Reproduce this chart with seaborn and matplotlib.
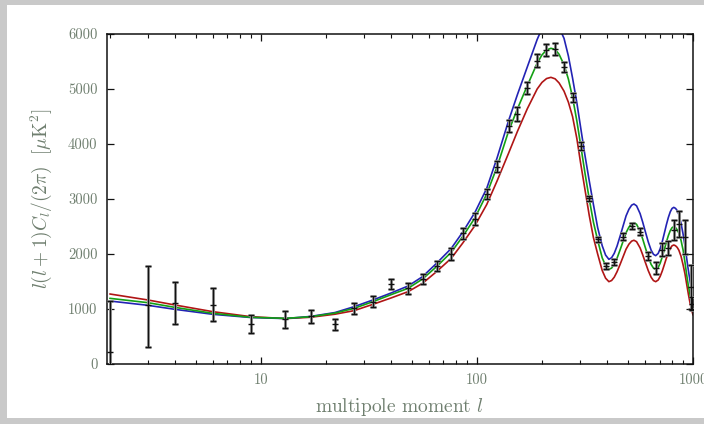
import matplotlib
matplotlib.use("Agg")
import matplotlib.pyplot as plt
from matplotlib.patches import Rectangle
from matplotlib.ticker import LogLocator, NullFormatter, FixedLocator
import numpy as np
import pandas as pd
import seaborn as sns

# ---- model curves ----
curve_l = [2, 3, 4, 6, 9, 13, 17, 22, 27, 33,
           40, 48, 56, 65, 76, 86, 98, 111, 124, 140,
           154, 171, 190, 200, 210, 220, 230, 240, 253, 265,
           277, 290, 302, 316, 331, 346, 362, 380, 394, 408,
           420, 432, 445, 460, 476, 490, 505, 520, 533, 548,
           569, 585, 600, 621, 640, 656, 672, 690, 705, 721,
           737, 753, 769, 785, 800, 815, 830, 845, 860, 880,
           900, 918, 935, 952, 970, 985, 1000]
green_vals = [1194, 1115, 1030, 921, 849, 830, 860, 925, 1012, 1133,
              1260, 1376, 1545, 1770, 2030, 2320, 2660, 3091, 3588, 4230,
              4640, 5060, 5470, 5620, 5710, 5740, 5720, 5630, 5440, 5180,
              4850, 4420, 3980, 3480, 3000, 2580, 2250, 1930, 1790, 1720,
              1744, 1812, 1923, 2077, 2245, 2387, 2488, 2552, 2570, 2540,
              2413, 2273, 2131, 1945, 1811, 1744, 1721, 1756, 1834, 1949,
              2083, 2218, 2335, 2426, 2479, 2497, 2480, 2440, 2380, 2250,
              2070, 1850, 1620, 1420, 1250, 1130, 1040]
blue_vals = [1145, 1067, 994, 903, 845, 826, 865, 935, 1042, 1164,
             1290, 1418, 1588, 1830, 2100, 2400, 2760, 3194, 3750, 4420,
             4900, 5400, 5900, 6100, 6230, 6280, 6240, 6120, 5920, 5600,
             5200, 4750, 4300, 3800, 3330, 2900, 2480, 2150, 1980, 1903,
             1932, 2012, 2143, 2326, 2525, 2693, 2812, 2888, 2909, 2876,
             2735, 2580, 2424, 2218, 2070, 1995, 1970, 2010, 2098, 2228,
             2380, 2532, 2664, 2768, 2828, 2848, 2830, 2790, 2720, 2560,
             2360, 2150, 1920, 1700, 1500, 1340, 1194]
red_vals = [1273, 1164, 1073, 951, 860, 826, 850, 905, 970, 1085,
            1200, 1315, 1467, 1679, 1920, 2200, 2520, 2900, 3330, 3830,
            4230, 4640, 5000, 5120, 5190, 5212, 5185, 5110, 4960, 4760,
            4500, 4100, 3650, 3180, 2700, 2300, 2000, 1700, 1560, 1497,
            1518, 1578, 1677, 1813, 1962, 2088, 2178, 2234, 2250, 2224,
            2111, 1986, 1861, 1696, 1577, 1517, 1497, 1527, 1594, 1693,
            1808, 1924, 2025, 2103, 2149, 2164, 2150, 2120, 2070, 1960,
            1800, 1640, 1450, 1270, 1100, 990, 891]

# ---- measured band powers ----
data_l = [2, 3, 4, 6, 9, 13, 17, 22, 27, 33, 40, 48, 56, 65, 76, 86, 98, 111, 124, 140,
          154, 171, 190, 208, 230, 253, 277, 302, 331, 362, 394, 432, 476, 524, 569, 621,
          672, 721, 769, 819, 864, 918, 975, 990]
data_val = [210, 1073, 1103, 1073, 722, 810, 867, 721, 1012, 1133, 1449, 1376, 1545, 1782,
            2000, 2376, 2636, 3091, 3588, 4327, 4545, 5024, 5515, 5709, 5730, 5406, 4848,
            3964, 3012, 2267, 1782, 1855, 2315, 2509, 2409, 1970, 1750, 2080, 2110, 2436,
            2550, 2315, 1400, 1100]
data_err_lo = [400, 758, 381, 300, 164, 160, 115, 105, 97, 97, 91, 97, 91, 91, 105, 100,
               106, 91, 105, 112, 121, 112, 115, 109, 109, 91, 82, 79, 45, 48, 48, 48, 60,
               60, 60, 73, 105, 115, 120, 175, 235, 310, 400, 120]
data_err_hi = [935, 709, 393, 300, 169, 160, 115, 105, 97, 97, 91, 97, 91, 91, 105, 100,
               106, 91, 105, 112, 121, 112, 115, 109, 109, 91, 82, 79, 45, 48, 48, 48, 60,
               60, 60, 73, 105, 115, 120, 175, 235, 310, 400, 120]

x_ticks = [10, 100, 1000]
x_ticklabels = ["10", "100", "1000"]
y_ticks = [0, 1000, 2000, 3000, 4000, 5000, 6000]
y_ticklabels = ["0", "1000", "2000", "3000", "4000", "5000", "6000"]

sns.set_style("ticks")
plt.rcParams["font.family"] = ["cmr10", "DejaVu Serif"]
plt.rcParams["mathtext.fontset"] = "cm"
plt.rcParams["axes.formatter.use_mathtext"] = True

label_color = "#6f7f6f"

fig = plt.figure(figsize=(7.04, 4.24), dpi=100, facecolor="#c9c9c9")
fig.patches.append(Rectangle((7 / 704, 6 / 424), 1 - 7 / 704, 1 - 11 / 424,
                             transform=fig.transFigure, facecolor="white",
                             edgecolor="none", zorder=-10))
ax = fig.add_axes([107 / 704, (424 - 364) / 424, 586 / 704, 330 / 424])
ax.set_facecolor("white")

df = pd.concat([
    pd.DataFrame({"l": curve_l, "v": red_vals, "model": "red"}),
    pd.DataFrame({"l": curve_l, "v": blue_vals, "model": "blue"}),
    pd.DataFrame({"l": curve_l, "v": green_vals, "model": "green"}),
])
palette = {"red": "#b01515", "blue": "#2323b4", "green": "#14a014"}
sns.lineplot(data=df, x="l", y="v", hue="model", palette=palette, ax=ax,
             linewidth=1.2, legend=False, sort=False, estimator=None)

ax.errorbar(data_l, data_val, yerr=[data_err_lo, data_err_hi], fmt="none",
            ecolor="#9a9a9a", elinewidth=2.2, capsize=2.4, capthick=2.0, zorder=4)
ax.errorbar(data_l, data_val, yerr=[data_err_lo, data_err_hi], fmt="_",
            color="#111111", ecolor="#111111", elinewidth=0.9, capsize=2.0,
            capthick=0.9, markersize=4, markeredgewidth=1.0, zorder=5)

ax.set_xscale("log")
ax.set_xlim(1.94, 1000)
ax.set_ylim(0, 6000)
ax.xaxis.set_major_locator(FixedLocator(x_ticks))
ax.set_xticks(x_ticks)
ax.set_xticklabels(x_ticklabels)
ax.xaxis.set_minor_locator(LogLocator(base=10, subs=np.arange(2, 10)))
ax.xaxis.set_minor_formatter(NullFormatter())
ax.set_yticks(y_ticks)
ax.set_yticklabels(y_ticklabels)

ax.tick_params(axis="both", which="major", direction="in", length=5, width=0.9,
               top=True, right=True, labelsize=10.5, labelcolor=label_color, pad=7,
               color="#111111")
ax.tick_params(axis="x", which="minor", direction="in", length=3, width=0.8,
               top=True, bottom=True, color="#111111")
for s in ax.spines.values():
    s.set_color("#111111")
    s.set_linewidth(1.1)

ax.set_xlabel(r"multipole moment $l$", fontsize=14, color=label_color, labelpad=6)
ax.set_ylabel(r"$l(l+1)C_l/(2\pi)\ \ [\mu\mathrm{K}^2]$", fontsize=14,
              color=label_color, labelpad=10)

fig.savefig("out.png", dpi=100, facecolor=fig.get_facecolor())
